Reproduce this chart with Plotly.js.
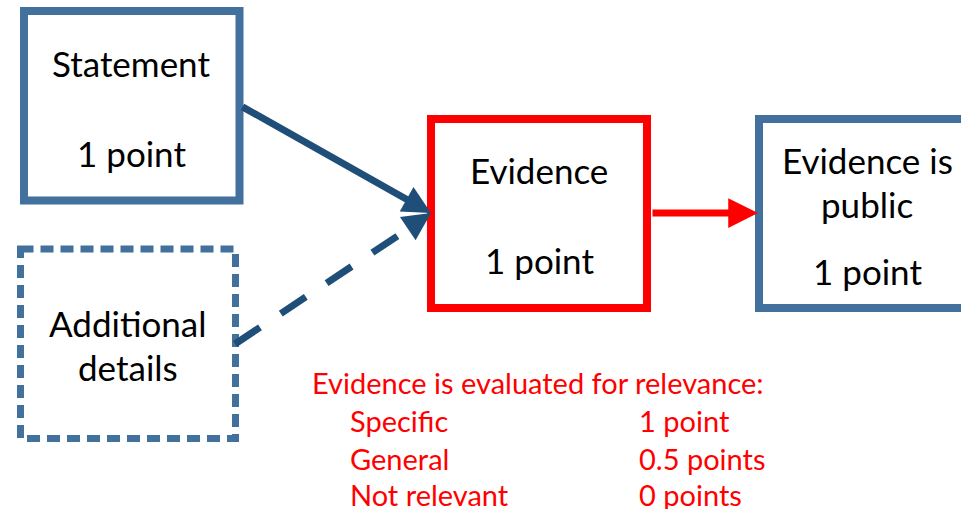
<!DOCTYPE html>
<html>
<head>
<meta charset="utf-8">
<script src="https://cdn.plot.ly/plotly-3.0.1.min.js"></script>
<style>
html,body{margin:0;padding:0;background:#fff;}
#chart{width:961px;height:509px;}
</style>
</head>
<body>
<div id="chart"></div>
<script>
// ---- data ----
const boxLines = [
  ["Statement"],
  ["Additional", "details"],
  ["Evidence"],
  ["Evidence is", "public"]
];
const boxPoints = [1, null, 1, 1];
const relevanceTitle = "Evidence is evaluated for relevance:";
const relevanceLevels = ["Specific", "General", "Not relevant"];
const relevancePoints = [1, 0.5, 0];

// ---- helpers ----
function pts(v) { return v === 1 ? v + " point" : v + " points"; }

const FONT = "Lato, 'Open Sans', sans-serif";
const BLUE_BOX = "#41719C";
const BLUE_ARROW = "#1F4E79";
const RED = "#FF0000";
const BOX_FS = 35;
const RED_FS = 29;

// box geometry (stroke centre lines)
const boxes = [
  {x0: 24,  y0: 11,  x1: 239.5, y1: 200.5, color: BLUE_BOX, w: 8, dash: "solid",
   lineY: [63], ptsY: 153, cx: 131},
  {x0: 20.5, y0: 249, x1: 235.5, y1: 438.5, color: BLUE_BOX, w: 7, dash: "13px,7px",
   lineY: [323, 367], ptsY: null, cx: 128},
  {x0: 431, y0: 119, x1: 647, y1: 308, color: RED, w: 8, dash: "solid",
   lineY: [170], ptsY: 260, cx: 539},
  {x0: 759, y0: 119, x1: 1000, y1: 308, color: BLUE_BOX, w: 8, dash: "solid",
   lineY: [160, 204], ptsY: 271, cx: 867}
];

const shapes = [];
const annotations = [];

boxes.forEach((b, i) => {
  shapes.push({type: "rect", xref: "x", yref: "y", x0: b.x0, x1: b.x1, y0: b.y0, y1: b.y1,
    line: {color: b.color, width: b.w, dash: b.dash}, fillcolor: "rgba(0,0,0,0)"});
  boxLines[i].forEach((t, j) => {
    annotations.push({x: b.cx, y: b.lineY[j], xref: "x", yref: "y", text: t, showarrow: false,
      xanchor: "center", yanchor: "middle", font: {family: FONT, size: BOX_FS, color: "#000"}});
  });
  if (boxPoints[i] !== null && b.ptsY !== null) {
    annotations.push({x: b.cx, y: b.ptsY, xref: "x", yref: "y", text: pts(boxPoints[i]), showarrow: false,
      xanchor: "center", yanchor: "middle", font: {family: FONT, size: BOX_FS, color: "#000"}});
  }
});

// solid arrow Statement -> Evidence
annotations.push({x: 431, y: 213, ax: 241, ay: 106, xref: "x", yref: "y", axref: "x", ayref: "y",
  text: "", showarrow: true, arrowhead: 2, arrowsize: 0.8, arrowwidth: 7, arrowcolor: BLUE_ARROW});

// dashed arrow Additional details -> Evidence
shapes.push({type: "line", xref: "x", yref: "y", x0: 235, y0: 344, x1: 414, y1: 225,
  line: {color: BLUE_ARROW, width: 7, dash: "30px,25px"}});
annotations.push({x: 431, y: 213, ax: 408, ay: 228.5, xref: "x", yref: "y", axref: "x", ayref: "y",
  text: "", showarrow: true, arrowhead: 2, arrowsize: 0.8, arrowwidth: 7, arrowcolor: BLUE_ARROW});

// red arrow Evidence -> Public
annotations.push({x: 758, y: 213, ax: 651, ay: 213, xref: "x", yref: "y", axref: "x", ayref: "y",
  text: "", showarrow: true, arrowhead: 2, arrowsize: 0.85, arrowwidth: 7, arrowcolor: RED});

// relevance text
annotations.push({x: 310, y: 382, xref: "x", yref: "y", text: relevanceTitle, showarrow: false,
  xanchor: "left", yanchor: "middle", font: {family: FONT, size: RED_FS, color: RED}});
const rowY = [420, 458, 494];
relevanceLevels.forEach((lv, i) => {
  annotations.push({x: 348, y: rowY[i], xref: "x", yref: "y", text: lv, showarrow: false,
    xanchor: "left", yanchor: "middle", font: {family: FONT, size: RED_FS, color: RED}});
  annotations.push({x: 637, y: rowY[i], xref: "x", yref: "y", text: pts(relevancePoints[i]), showarrow: false,
    xanchor: "left", yanchor: "middle", font: {family: FONT, size: RED_FS, color: RED}});
});

const layout = {
  width: 961, height: 509,
  margin: {l: 0, r: 0, t: 0, b: 0},
  paper_bgcolor: "#fff", plot_bgcolor: "#fff",
  showlegend: false,
  xaxis: {range: [0, 961], visible: false, fixedrange: true},
  yaxis: {range: [509, 0], visible: false, fixedrange: true},
  shapes: shapes,
  annotations: annotations
};

Plotly.newPlot("chart", [{x: [], y: [], type: "scatter", mode: "markers", hoverinfo: "skip"}], layout,
  {staticPlot: true, displayModeBar: false});
</script>
</body>
</html>
